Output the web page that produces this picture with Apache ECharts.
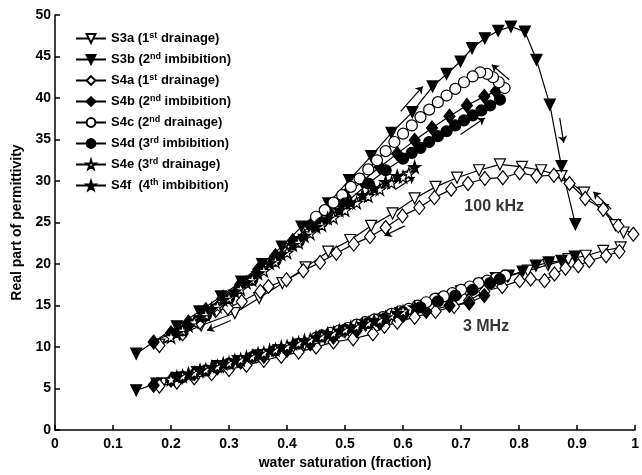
<!DOCTYPE html>
<html><head><meta charset="utf-8">
<script src="https://cdn.jsdelivr.net/npm/echarts@6/dist/echarts.min.js"></script>
<style>html,body{margin:0;padding:0;background:#fff}#c{width:642px;height:475px}</style>
</head><body><div id="c"></div>
<script>
// ---- data: [water saturation, real permittivity] ----
const s3a_100k = [[0.98,23.8],[0.966,24.7],[0.944,26.5],[0.912,28.6],[0.873,30.6],[0.838,31.3],[0.805,31.7],[0.767,32.0],[0.731,31.3],[0.693,30.4],[0.656,29.3],[0.620,27.9],[0.582,26.1],[0.545,24.6],[0.509,22.9],[0.471,21.5],[0.432,19.6],[0.392,17.7],[0.352,15.9],[0.31,14.1],[0.252,12.6],[0.215,11.5],[0.18,10.3]];
const s3b_100k = [[0.140,9.2],[0.21,12.5],[0.249,14.3],[0.286,16.1],[0.321,17.9],[0.357,20.0],[0.391,22.1],[0.425,24.5],[0.471,27.3],[0.507,30.1],[0.545,33.0],[0.580,35.8],[0.616,38.3],[0.651,41.4],[0.675,42.9],[0.699,44.4],[0.719,46.0],[0.741,47.2],[0.764,48.1],[0.786,48.6],[0.810,48.0],[0.830,44.6],[0.853,39.2],[0.873,31.8],[0.897,24.8]];
const s4a_100k = [[0.997,23.6],[0.971,24.6],[0.945,26.6],[0.914,27.9],[0.887,29.7],[0.860,30.7],[0.830,30.6],[0.801,31.0],[0.772,30.4],[0.741,30.3],[0.712,29.7],[0.683,29.0],[0.654,28.0],[0.628,26.8],[0.599,25.8],[0.570,24.4],[0.543,23.3],[0.515,22.4],[0.485,21.3],[0.457,20.2],[0.428,19.2],[0.399,18.1],[0.368,17.3],[0.354,16.7],[0.322,15.5],[0.298,14.7],[0.277,14.4],[0.25,13.0],[0.22,11.6],[0.18,10.2]];
const s4b_100k = [[0.17,10.6],[0.20,11.7],[0.23,13.0],[0.26,14.5],[0.29,16.0],[0.32,17.6],[0.35,19.3],[0.38,21.0],[0.41,22.8],[0.44,24.6],[0.47,26.4],[0.50,28.2],[0.53,30.0],[0.56,31.7],[0.59,33.3],[0.62,34.9],[0.65,36.4],[0.68,37.8],[0.71,39.1],[0.74,40.2],[0.76,40.8]];
const s4c_100k = [[0.775,41.2],[0.765,41.9],[0.755,42.5],[0.745,42.9],[0.733,43.1],[0.72,42.6],[0.705,41.9],[0.69,41.1],[0.675,40.3],[0.66,39.5],[0.645,38.6],[0.63,37.7],[0.615,36.7],[0.60,35.7],[0.585,34.7],[0.57,33.6],[0.555,32.5],[0.54,31.4],[0.525,30.3],[0.51,29.3],[0.495,28.3],[0.48,27.4],[0.465,26.5],[0.45,25.7]];
const s4d_100k = [[0.22,12.0],[0.26,13.8],[0.30,15.9],[0.34,18.1],[0.38,20.4],[0.42,22.7],[0.46,25.0],[0.50,27.3],[0.54,29.7],[0.57,31.3],[0.60,32.7],[0.615,33.4],[0.63,34.0],[0.645,34.7],[0.66,35.4],[0.675,36.0],[0.69,36.7],[0.705,37.3],[0.72,37.9],[0.735,38.5],[0.75,39.1],[0.767,39.8]];
const s4e_100k = [[0.20,11.2],[0.22,12.0],[0.24,13.0],[0.26,13.9],[0.28,14.9],[0.30,15.9],[0.32,17.0],[0.34,18.1],[0.36,19.2],[0.38,20.3],[0.40,21.4],[0.42,22.6],[0.44,23.7],[0.46,24.7],[0.48,25.6],[0.50,26.5],[0.52,27.4],[0.54,28.2],[0.56,29.0],[0.58,29.8],[0.60,30.5],[0.61,30.9]];
const s4f_100k = [[0.21,11.7],[0.23,12.6],[0.25,13.6],[0.27,14.6],[0.29,15.7],[0.31,16.7],[0.33,17.8],[0.35,18.9],[0.37,20.1],[0.39,21.2],[0.41,22.3],[0.43,23.4],[0.45,24.5],[0.47,25.5],[0.49,26.5],[0.51,27.4],[0.53,28.3],[0.55,29.1],[0.57,29.9],[0.59,30.6],[0.62,31.7]];

const s3a_3M = [[0.975,22.0],[0.945,21.6],[0.915,21.0],[0.885,20.6],[0.85,19.9],[0.815,19.2],[0.78,18.5],[0.745,17.7],[0.71,16.8],[0.675,16.0],[0.64,15.0],[0.605,14.2],[0.57,13.4],[0.535,12.6],[0.5,11.8],[0.465,11.1],[0.43,10.3],[0.395,9.6],[0.36,9.0],[0.325,8.3],[0.29,7.6],[0.255,7.0],[0.22,6.3],[0.185,5.6]];
const s3b_3M = [[0.14,4.8],[0.175,5.6],[0.21,6.3],[0.245,7.0],[0.28,7.7],[0.315,8.3],[0.35,9.0],[0.385,9.6],[0.42,10.3],[0.455,11.0],[0.49,11.8],[0.525,12.6],[0.56,13.3],[0.595,14.1],[0.63,14.9],[0.665,15.8],[0.70,16.7],[0.735,17.6],[0.76,18.3],[0.782,18.6],[0.806,19.1],[0.829,19.8],[0.851,20.2],[0.873,20.4],[0.896,20.9]];
const s4a_3M = [[0.973,21.5],[0.950,21.0],[0.921,20.4],[0.902,19.8],[0.88,19.5],[0.861,18.8],[0.844,18.0],[0.82,18.2],[0.801,18.0],[0.771,17.3],[0.740,16.7],[0.714,15.6],[0.688,14.9],[0.656,14.3],[0.62,13.6],[0.59,13.0],[0.568,12.5],[0.548,11.6],[0.514,11.0],[0.48,10.6],[0.45,10.0],[0.42,9.4],[0.39,8.9],[0.36,8.4],[0.33,7.8],[0.30,7.3],[0.27,6.8],[0.24,6.3],[0.21,5.8],[0.18,5.3]];
const s4b_3M = [[0.17,5.4],[0.20,6.0],[0.24,6.8],[0.28,7.5],[0.32,8.2],[0.36,8.9],[0.40,9.6],[0.44,10.4],[0.48,11.2],[0.52,12.0],[0.56,12.9],[0.60,13.8],[0.64,14.3],[0.68,15.0],[0.714,15.3],[0.74,16.2]];
const s4c_3M = [[0.776,18.6],[0.76,18.3],[0.745,18.0],[0.73,17.7],[0.715,17.3],[0.70,16.9],[0.685,16.5],[0.67,16.1],[0.655,15.8],[0.64,15.4],[0.625,15.0],[0.61,14.6],[0.595,14.3],[0.58,14.0],[0.565,13.6],[0.55,13.3],[0.535,13.0],[0.52,12.7],[0.505,12.3],[0.49,12.0],[0.475,11.7],[0.46,11.4],[0.45,11.1]];
const s4d_3M = [[0.22,6.4],[0.26,7.2],[0.30,8.0],[0.34,8.8],[0.38,9.6],[0.42,10.4],[0.46,11.3],[0.50,12.1],[0.54,12.9],[0.57,13.5],[0.60,14.2],[0.63,14.8],[0.66,15.5],[0.69,16.2],[0.72,16.9],[0.75,17.7],[0.767,18.2]];
const s4e_3M = [[0.20,6.1],[0.22,6.5],[0.24,6.9],[0.26,7.3],[0.28,7.7],[0.30,8.1],[0.32,8.5],[0.34,8.9],[0.36,9.3],[0.38,9.7],[0.40,10.1],[0.42,10.5],[0.44,10.9],[0.46,11.3],[0.48,11.7],[0.50,12.1],[0.52,12.5],[0.54,12.9],[0.56,13.3],[0.58,13.8],[0.60,14.3]];
const s4f_3M = [[0.21,6.4],[0.23,6.8],[0.25,7.2],[0.27,7.6],[0.29,8.0],[0.31,8.4],[0.33,8.8],[0.35,9.2],[0.37,9.6],[0.39,10.0],[0.41,10.4],[0.43,10.8],[0.45,11.2],[0.47,11.6],[0.49,12.0],[0.51,12.4],[0.53,12.8],[0.55,13.2],[0.57,13.6],[0.59,14.1],[0.62,14.8]];

const seriesNames = ['S3a (1st drainage)','S3b (2nd imbibition)','S4a (1st drainage)','S4b (2nd imbibition)','S4c (2nd drainage)','S4d (3rd imbibition)','S4e (3rd drainage)','S4f  (4th imbibition)'];
const legendLabels = ['S3a (1{sup|st} drainage)','S3b (2{sup|nd} imbibition)','S4a (1{sup|st} drainage)','S4b (2{sup|nd} imbibition)','S4c (2{sup|nd} drainage)','S4d (3{sup|rd} imbibition)','S4e (3{sup|rd} drainage)','S4f  (4{sup|th} imbibition)'];
const annotTexts = [{value:[0.757,26.9], name:'100 kHz'},{value:[0.743,12.5], name:'3 MHz'}];
const arrows = [[[0.596,38.4],[0.634,41.4]],[[0.699,35.6],[0.741,37.6]],[[0.783,42.2],[0.753,44.0]],[[0.870,37.6],[0.877,34.6]],[[0.959,26.6],[0.928,28.7]],[[0.603,24.6],[0.568,23.4]],[[0.587,29.0],[0.620,30.5]],[[0.303,13.2],[0.262,12.0]]];

const STAR = 'path://M50,0 L61,35 L98,35 L68,57 L79,91 L50,70 L21,91 L32,57 L2,35 L39,35 Z';
const styles = [
  {symbol:'triangle', rot:180, fill:false, size:11},
  {symbol:'triangle', rot:180, fill:true, size:11},
  {symbol:'diamond', rot:0, fill:false, size:[11,14]},
  {symbol:'diamond', rot:0, fill:true, size:[11,14]},
  {symbol:'circle', rot:0, fill:false, size:11},
  {symbol:'circle', rot:0, fill:true, size:11},
  {symbol:STAR, rot:0, fill:false, size:12},
  {symbol:STAR, rot:0, fill:true, size:12}
];
const data100k = [s3a_100k,s3b_100k,s4a_100k,s4b_100k,s4c_100k,s4d_100k,s4e_100k,s4f_100k];
const data3M = [s3a_3M,s3b_3M,s4a_3M,s4b_3M,s4c_3M,s4d_3M,s4e_3M,s4f_3M];

function mk(i, d){
  const st = styles[i];
  return {
    type:'line', name:seriesNames[i], data:d, symbol:st.symbol, symbolRotate:st.rot, symbolSize:st.size,
    showAllSymbol:true, z:3,
    lineStyle:{color:'#000', width:1.2},
    itemStyle:{color: st.fill ? '#000' : '#fff', borderColor:'#000', borderWidth:1.2},
    emphasis:{disabled:true}
  };
}
const series = [];
for (let i=0;i<8;i++){ series.push(mk(i, data3M[i])); }
for (let i=0;i<8;i++){ series.push(mk(i, data100k[i])); }
series.push({
  type:'scatter', name:'annot', data:annotTexts, symbolSize:1, z:5,
  itemStyle:{color:'rgba(0,0,0,0)'},
  label:{show:true, position:'inside', formatter:'{b}', color:'#000', fontSize:16, fontWeight:'bold', fontFamily:'Liberation Sans'},
  markLine:{
    silent:true, symbol:['none','arrow'], symbolSize:7, animation:false,
    label:{show:false},
    lineStyle:{color:'#000', width:1.2, type:'solid'},
    data: arrows.map(a => [{coord:a[0]},{coord:a[1]}])
  }
});

const chart = echarts.init(document.getElementById('c'));
chart.setOption({
  animation:false,
  backgroundColor:'#fff',
  textStyle:{fontFamily:'Liberation Sans'},
  grid:{left:55, right:3, top:15, bottom:43},
  legend:{
    data:seriesNames, orient:'vertical', left:70, top:26, itemGap:7, itemWidth:30, itemHeight:11,
    selectedMode:false,
    formatter: name => legendLabels[seriesNames.indexOf(name)],
    textStyle:{fontSize:13, fontWeight:'bold', color:'#000', fontFamily:'Liberation Sans',
      rich:{sup:{fontSize:9, fontWeight:'bold', color:'#000', fontFamily:'Liberation Sans', padding:[0,0,6,0]}}}
  },
  xAxis:{
    type:'value', min:0, max:1, interval:0.1,
    name:'water saturation (fraction)', nameLocation:'middle', nameGap:24,
    nameTextStyle:{fontSize:14, fontWeight:'bold', color:'#000'},
    axisLine:{lineStyle:{color:'#000', width:1.5}},
    axisTick:{inside:true, length:5, lineStyle:{color:'#000', width:1.5}},
    axisLabel:{fontSize:14, fontWeight:'bold', color:'#000', margin:7, showMaxLabel:true},
    splitLine:{show:false}
  },
  yAxis:{
    type:'value', min:0, max:50, interval:5,
    name:'Real part of permittivity', nameLocation:'middle', nameGap:28,
    nameTextStyle:{fontSize:14, fontWeight:'bold', color:'#000'},
    axisLine:{show:true, lineStyle:{color:'#000', width:1.5}},
    axisTick:{show:true, inside:true, length:5, lineStyle:{color:'#000', width:1.5}},
    axisLabel:{fontSize:14, fontWeight:'bold', color:'#000', margin:4},
    splitLine:{show:false}
  },
  series: series
});
</script></body></html>
